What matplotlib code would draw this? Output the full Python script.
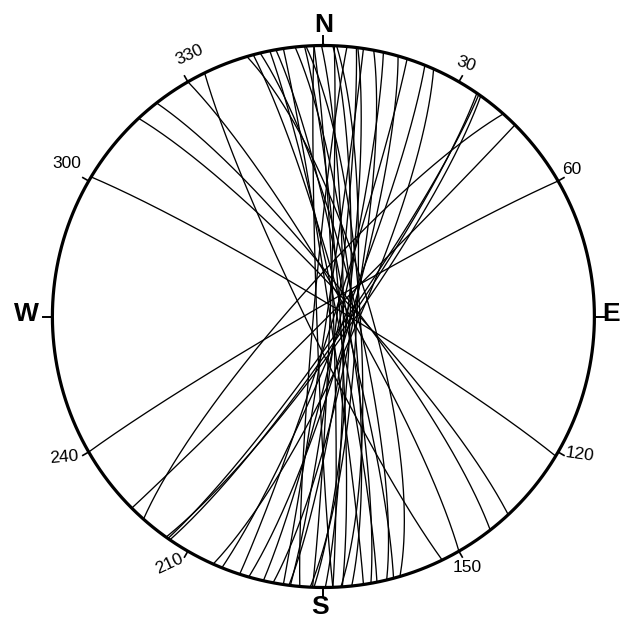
import numpy as np
import matplotlib
matplotlib.use("Agg")
import matplotlib.pyplot as plt

# ---- data: planes as (strike, dip), right-hand rule, lower hemisphere equal-area
strikes = [301, 240, 317, 322, 45, 221.6, 35.5, 35, 154, 343.6, 330,
           346.5, 348.6, 349.9, 351.5, 354, 356, 356.3, 358, 359.6, 2, 2.3, 2.8,
           7, 7.3, 8.5, 10.7, 12.8, 16, 18, 22, 24, 34.5, 345, 178, 185]
dips = [86, 87, 82, 81, 89, 81, 82, 84, 85, 76, 83,
        80, 86, 83, 88, 81, 85, 79, 87, 84, 82, 88, 80,
        86, 83, 89, 81, 85, 82, 87, 84, 80, 83, 84, 88, 87]

dir_labels = ["N", "E", "S", "W"]
dir_angles = [0, 90, 180, 270]
num_labels = ["30", "60", "120", "150", "210", "240", "300", "330"]
num_angles = [30, 60, 120, 150, 210, 240, 300, 330]

# ---- layout (pixel geometry of the reference)
W, H = 622, 620
CX, CY, R = 323.4, 316.5, 271.0


def great_circle(strike, dip, n=300):
    s = np.radians(strike)
    d = np.radians(dip)
    t = np.linspace(0, np.pi, n)
    sv = np.array([np.sin(s), np.cos(s), 0.0])
    dd = s + np.pi / 2
    dv = np.array([np.cos(d) * np.sin(dd), np.cos(d) * np.cos(dd), np.sin(d)])
    v = np.outer(np.cos(t), sv) + np.outer(np.sin(t), dv)
    e, n_, dn = v.T
    plunge = np.arcsin(np.clip(dn, -1, 1))
    trend = np.arctan2(e, n_)
    r = np.sqrt(2) * np.sin((np.pi / 2 - plunge) / 2)
    return r * np.sin(trend), r * np.cos(trend)


def px(x, y):
    return (x - CX) / R, (CY - y) / R


fig = plt.figure(figsize=(W / 100, H / 100), dpi=100)
ax = fig.add_axes([0, 0, 1, 1])
ax.set_xlim(px(0, 0)[0], px(W, 0)[0])
ax.set_ylim(px(0, H)[1], px(0, 0)[1])
ax.axis("off")

for s, d in zip(strikes, dips):
    x, y = great_circle(s, d)
    ax.plot(x, y, color="black", lw=0.95, solid_capstyle="butt")

th = np.linspace(0, 2 * np.pi, 721)
ax.plot(np.sin(th), np.cos(th), color="black", lw=2.3)

# ticks
for a in dir_angles:
    ar = np.radians(a)
    ax.plot([np.sin(ar), 1.035 * np.sin(ar)], [np.cos(ar), 1.035 * np.cos(ar)],
            color="black", lw=1.4)
for a in num_angles:
    ar = np.radians(a)
    ax.plot([np.sin(ar), 1.025 * np.sin(ar)], [np.cos(ar), 1.025 * np.cos(ar)],
            color="black", lw=1.2)

fam = ["Liberation Sans", "DejaVu Sans"]
dir_pos = {"N": (324, 25), "E": (611, 314), "S": (320, 607), "W": (26, 314)}
for lab in dir_labels:
    x, y = px(*dir_pos[lab])
    ax.text(x, y, lab, fontsize=19, fontweight="bold", family=fam,
            ha="center", va="center")

num_pos = {"30": (466, 64, -20), "60": (572, 169, 0), "120": (580, 455, -8),
           "150": (467, 567, 0), "210": (169, 564, 25), "240": (64, 457, 5),
           "300": (67, 163, 0), "330": (190, 55, 25)}
for lab in num_labels:
    xx, yy, rot = num_pos[lab]
    x, y = px(xx, yy)
    ax.text(x, y, lab, fontsize=12.5, family=fam, ha="center", va="center",
            rotation=rot)

fig.savefig("out.png", dpi=100, facecolor="white")
